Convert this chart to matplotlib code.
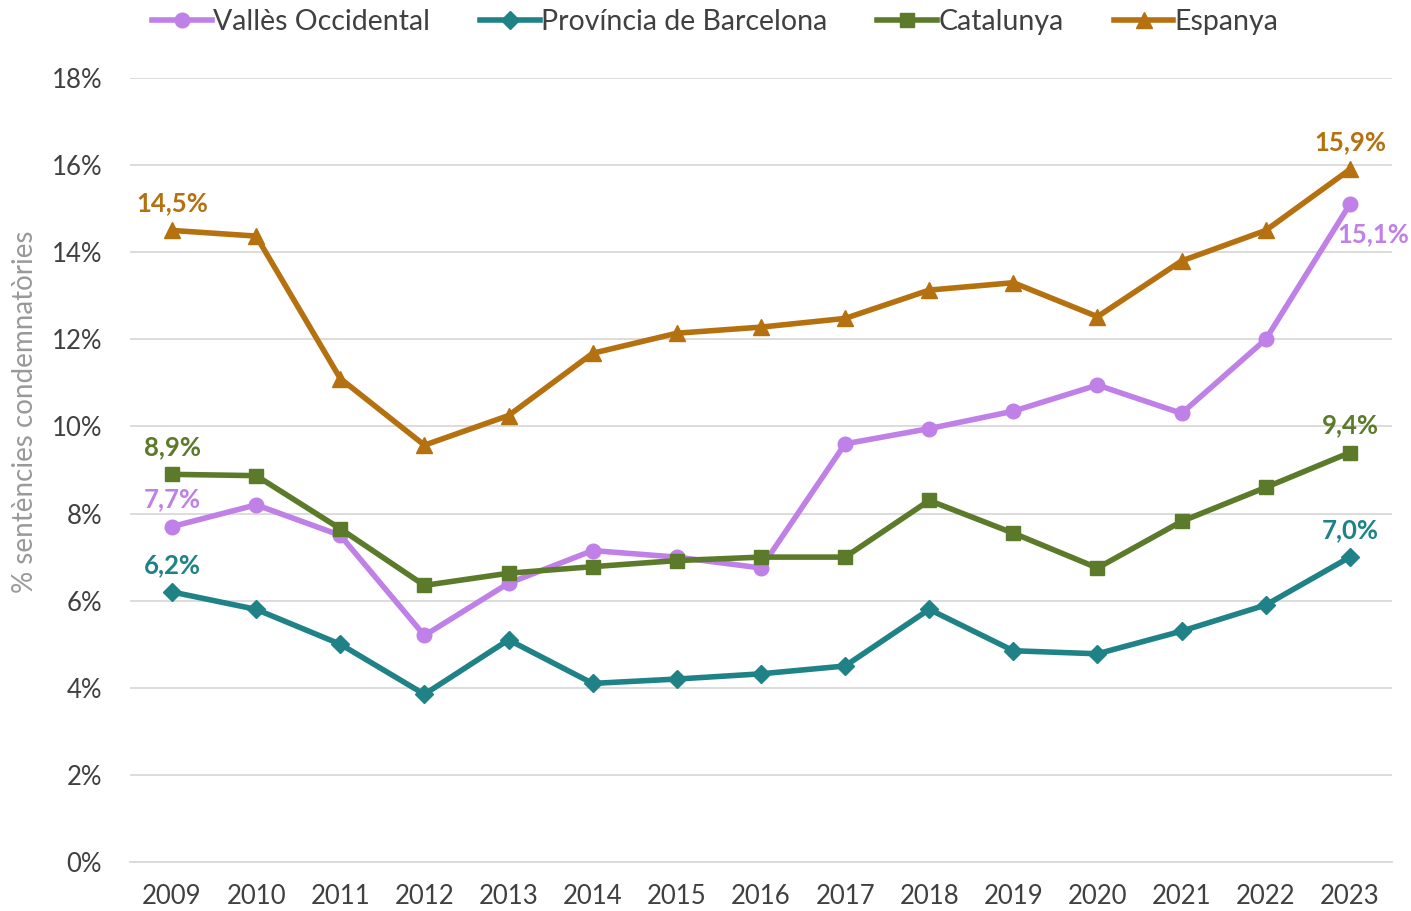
import matplotlib
matplotlib.use("Agg")
from matplotlib import pyplot as plt
from matplotlib.ticker import FuncFormatter

plt.rcParams['font.family'] = ['Lato', 'DejaVu Sans']

years = [str(y) for y in range(2009, 2024)]

valles = [7.7, 8.2, 7.5, 5.2, 6.4, 7.15, 7.0, 6.75, 9.6, 9.95, 10.35, 10.95, 10.3, 12.0, 15.1]
provincia = [6.2, 5.8, 5.0, 3.85, 5.1, 4.1, 4.2, 4.32, 4.5, 5.8, 4.85, 4.78, 5.3, 5.9, 7.0]
catalunya = [8.9, 8.87, 7.65, 6.35, 6.63, 6.78, 6.92, 7.0, 7.0, 8.3, 7.55, 6.75, 7.82, 8.6, 9.4]
espanya = [14.5, 14.37, 11.1, 9.57, 10.25, 11.68, 12.14, 12.28, 12.48, 13.13, 13.3, 12.52, 13.8, 14.5, 15.9]

series = [
    ("Vallès Occidental", valles, "#bf80e8", "o", 10.5),
    ("Província de Barcelona", provincia, "#1f8286", "D", 9.5),
    ("Catalunya", catalunya, "#5b7a2a", "s", 10.5),
    ("Espanya", espanya, "#b5700f", "^", 11.5),
]

# label offsets (points) for first / last value
label_offsets = {
    "Vallès Occidental": ((0, 11), (17, -30)),
    "Província de Barcelona": ((0, 11), (0, 11)),
    "Catalunya": ((0, 11), (0, 11)),
    "Espanya": ((0, 11), (0, 11)),
}

fig = plt.figure(figsize=(14.11, 9.11), dpi=100)
ax = fig.add_axes([0.0921, 0.0538, 0.8944, 0.8606])

x = list(range(len(years)))
for name, vals, color, marker, ms in series:
    ax.plot(x, vals, color=color, lw=4.0, marker=marker, markersize=ms,
            label=name, zorder=3)
    first, last = label_offsets[name]
    for i, off in ((0, first), (len(vals) - 1, last)):
        ax.annotate(f"{vals[i]:.1f}%".replace(".", ","), (x[i], vals[i]),
                    xytext=off, textcoords="offset points", ha="center",
                    va="bottom", color=color, fontsize=18.5, fontweight="bold",
                    zorder=4)

ax.set_xlim(-0.5, len(years) - 0.5)
ax.set_ylim(0, 18)
ax.set_yticks(range(0, 19, 2))
ax.yaxis.set_major_formatter(FuncFormatter(lambda v, p: f"{v:.0f}%"))
ax.set_xticks(x)
ax.set_xticklabels(years)
ax.grid(axis="y", color="#d9d9d9", lw=1.3)
ax.set_axisbelow(True)
for s in ["top", "right", "left"]:
    ax.spines[s].set_visible(False)
ax.spines["bottom"].set_color("#d9d9d9")
ax.spines["bottom"].set_linewidth(1.3)
ax.tick_params(axis="both", length=0, labelsize=18.5, labelcolor="#404040")
ax.tick_params(axis="x", pad=16)
ax.tick_params(axis="y", pad=20)
ax.set_ylabel("% sentències condemnatòries", fontsize=20, color="#999999",
              labelpad=6)
ax.yaxis.set_label_coords(-0.073, 0.574)

fig.legend(loc="upper center", bbox_to_anchor=(0.507, 1.018), ncol=4,
           frameon=False, fontsize=20.5, handlelength=2.1, handletextpad=0.05,
           columnspacing=1.75, labelcolor="#404040")

fig.savefig("out.png", dpi=100)
